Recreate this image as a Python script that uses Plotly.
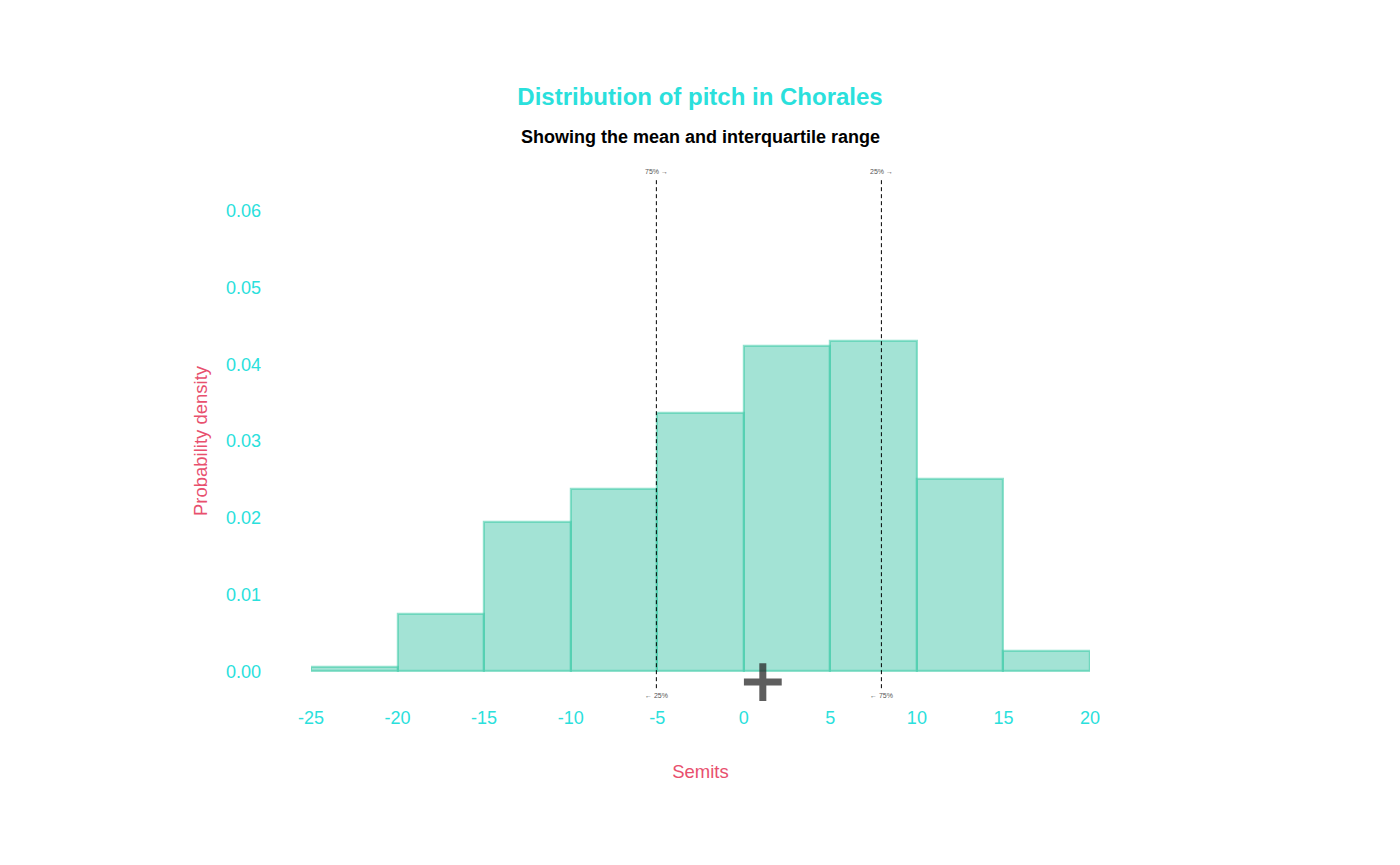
import plotly.graph_objects as go

# histogram of pitch (semitones), density per 5-semitone bin
bin_left = [-25, -20, -15, -10, -5, 0, 5, 10, 15]
bin_width = 5
density = [0.0005, 0.0075, 0.0195, 0.0237, 0.0337, 0.0424, 0.0430, 0.0251, 0.0026]

x_ticks = [-25, -20, -15, -10, -5, 0, 5, 10, 15, 20]
y_ticks = [0, 0.01, 0.02, 0.03, 0.04, 0.05, 0.06]

mean_pitch = 1.1
mean_y = -0.0014
q25 = -5.05
q75 = 7.95

teal = "#2ae0dc"
red = "#e8506e"
font = "Liberation Sans, Arial, sans-serif"

fig = go.Figure()

fig.add_trace(go.Bar(
    x=[b + bin_width / 2 for b in bin_left],
    y=density,
    width=bin_width,
    marker=dict(color="rgba(72,200,172,0.5)", line=dict(color="rgba(72,205,172,0.6)", width=2.2)),
    hoverinfo="skip",
))

fig.add_trace(go.Scatter(
    x=[mean_pitch], y=[mean_y],
    mode="markers",
    marker=dict(symbol="cross-thin", size=27, line=dict(color="rgba(40,40,40,0.75)", width=7)),
    cliponaxis=False,
))

# interquartile lines
for q in [q25, q75]:
    fig.add_shape(type="line", x0=q, x1=q, y0=-0.0022, y1=0.0642, xref="x", yref="y",
                  line=dict(color="black", width=1, dash="4px,3px"))

labels_top = ["75% \u2192", "25% \u2192"]
labels_bot = ["\u2190 25%", "\u2190 75%"]
for q, t, b in zip([q25, q75], labels_top, labels_bot):
    fig.add_annotation(x=q, y=1, yanchor="bottom", yshift=3, text=t, showarrow=False,
                       xref="x", yref="paper", font=dict(size=7, color="#555555"))
    fig.add_annotation(x=q, y=-0.0031, text=b, showarrow=False, xref="x", yref="y",
                       font=dict(size=7, color="#555555"))

fig.add_annotation(
    text="<b>Showing the mean and interquartile range</b>",
    x=0.5, xref="paper", y=1 + 43 / 522, yref="paper", yanchor="middle", showarrow=False,
    font=dict(size=18, color="black", family=font),
)

fig.update_layout(
    width=1400, height=865,
    paper_bgcolor="white", plot_bgcolor="white",
    showlegend=False,
    bargap=0,
    font=dict(family=font),
    margin=dict(l=303, r=318, t=172, b=171),
    title=dict(
        text="<b>Distribution of pitch in Chorales</b>",
        x=0.4943, xanchor="center", y=0.898, yanchor="middle",
        font=dict(size=24, color=teal, family=font),
    ),
    xaxis=dict(
        range=[-25, 20], tickvals=x_ticks, ticktext=[str(v) for v in x_ticks],
        showgrid=False, zeroline=False, showline=False,
        tickfont=dict(size=18, color=teal),
        ticklabelstandoff=3,
        title=dict(text="Semits", font=dict(size=18.5, color=red), standoff=38),
    ),
    yaxis=dict(
        range=[-0.004, 0.064], tickvals=y_ticks, tickformat=".2f",
        showgrid=False, zeroline=False, showline=False,
        tickfont=dict(size=18, color=teal),
        ticklabelstandoff=49,
        title=dict(text="Probability density", font=dict(size=18.5, color=red), standoff=13),
    ),
)

fig.write_html("out.html")
